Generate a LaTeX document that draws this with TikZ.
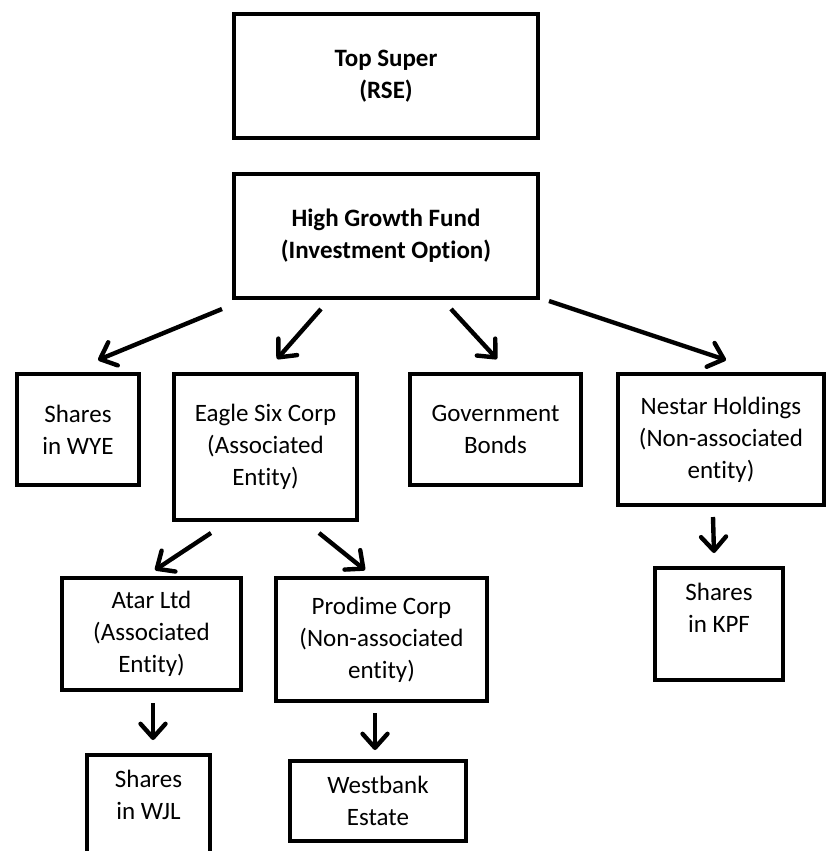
\documentclass[tikz,border=0pt]{standalone}
\usepackage{fontspec}
\setmainfont{Carlito}[Ligatures=NoCommon]
\usetikzlibrary{arrows.meta, calc}

\tikzset{
  entity/.style={draw, line width=2pt, align=center, inner sep=0pt,
    font=\fontsize{12.5}{16}\selectfont},
  fund/.style={entity, font=\fontsize{12.5}{16}\selectfont\bfseries,
    minimum width=152pt, minimum height=62pt},
  flow/.style={line width=2.2pt, -{Straight Barb[length=7pt, width=12.5pt, round]}}
}

\begin{document}
\begin{tikzpicture}[x=0.5pt, y=-0.5pt]
      \useasboundingbox (0,0) rectangle (828,851);

      % Fund levels
      \node[fund] (top) at (386,76) {Top Super\\(RSE)};
      \node[fund] (hgf) at (386,236) {High Growth Fund\\(Investment Option)};

      % Direct investments
      \node[entity, minimum width=61pt, minimum height=55.5pt] (wye) at (78,429.5) {Shares\\in WYE};
      \node[entity, minimum width=91.5pt, minimum height=73pt] (eagle) at (265.5,447) {Eagle Six Corp\\(Associated\\Entity)};
      \node[entity, minimum width=85.5pt, minimum height=55.5pt] (bonds) at (495.5,429.5) {Government\\Bonds};
      \node[entity, minimum width=103pt, minimum height=65.5pt] (nestar) at (721,439.5) {Nestar Holdings\\(Non-associated\\entity)};

      % Second level
      \node[entity, minimum width=89.5pt, minimum height=56pt] (atar) at (151.5,634) {Atar Ltd\\(Associated\\Entity)};
      \node[entity, minimum width=105.5pt, minimum height=61.5pt] (prodime) at (381.5,639.5) {Prodime Corp\\(Non-associated\\entity)};
      \node[entity, minimum width=64pt, minimum height=56pt] (kpf) at (719,624) {Shares\\in KPF\\\mbox{}};

      % Third level
      \node[entity, minimum width=61.5pt, minimum height=56pt] (wjl) at (148.5,811) {Shares\\in WJL\\\mbox{}};
      \node[entity, minimum width=88pt, minimum height=40pt] (westbank) at (378,801) {Westbank\\Estate};

      % Arrows from the fund
      \draw[flow] ($(hgf.south west)+(-10,9)$) -- ($(wye.north)+(20,-12)$);
      \draw[flow] ($(hgf.south)+(-65,9)$) -- ($(eagle.north)+(11.5,-13)$);
      \draw[flow] ($(hgf.south)+(65,9)$) -- ($(bonds.north)+(1.5,-13)$);
      \draw[flow] ($(hgf.south east)+(9,1)$) -- ($(nestar.north)+(5,-12)$);

      % Arrows below
      \draw[flow] ($(eagle.south)+(-54.5,11)$) -- ($(atar.north)+(3.5,-6)$);
      \draw[flow] ($(eagle.south)+(53.5,11)$) -- ($(prodime.north)+(-16.5,-6)$);
      \draw[flow] ($(atar.south)+(1.5,11)$) -- ($(wjl.north)+(4.5,-13)$);
      \draw[flow] ($(prodime.south)+(-6.5,10)$) -- ($(westbank.north)+(-3,-9)$);
      \draw[flow] ($(nestar.south)+(-8,10)$) -- ($(kpf.north)+(-5,-13)$);
    \end{tikzpicture}
\end{document}
